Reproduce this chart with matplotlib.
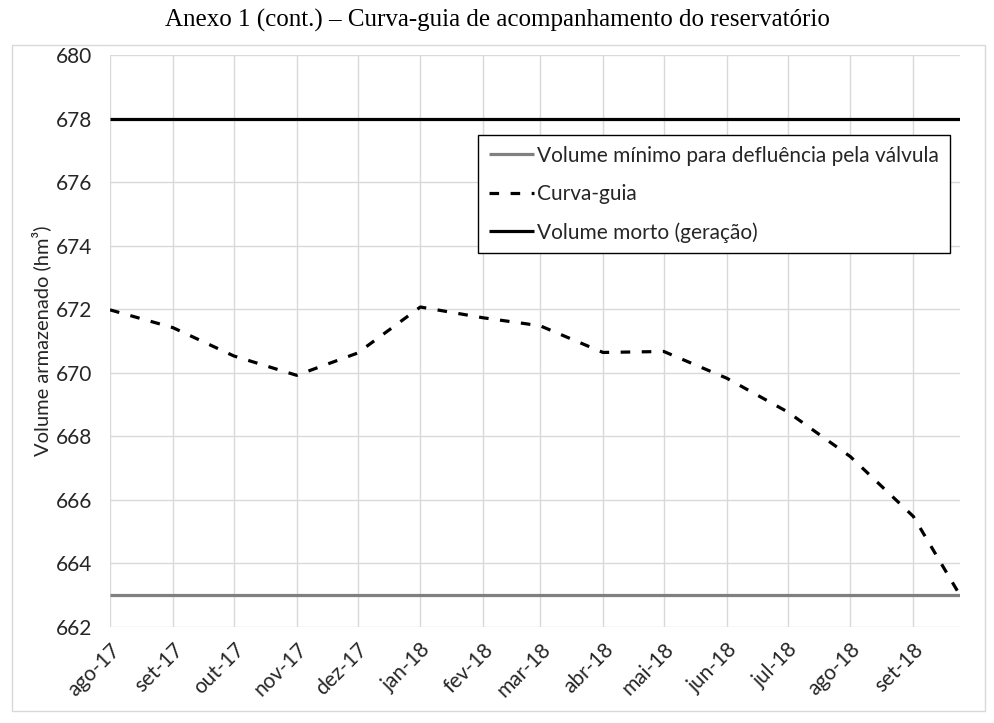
import numpy as np
import pandas as pd
import matplotlib
matplotlib.use("Agg")
import matplotlib.pyplot as plt
from matplotlib.patches import Rectangle

# curva-guia (hm3)
datas = pd.to_datetime(["2017-08-01", "2017-09-01", "2017-10-01", "2017-11-01",
                        "2017-12-01", "2018-01-01", "2018-02-01", "2018-03-01",
                        "2018-04-01", "2018-05-01", "2018-06-01", "2018-07-01",
                        "2018-08-01", "2018-09-01", "2018-09-24"])
curva_guia = [671.98, 671.42, 670.53, 669.92, 670.62, 672.07, 671.73, 671.48,
              670.64, 670.67, 669.83, 668.77, 667.36, 665.48, 663.0]
volume_minimo = 663.0
volume_morto = 678.0
meses = ["ago-17", "set-17", "out-17", "nov-17", "dez-17", "jan-18", "fev-18",
         "mar-18", "abr-18", "mai-18", "jun-18", "jul-18", "ago-18", "set-18"]

plt.rcParams['font.family'] = ['Lato', 'DejaVu Sans']

fig = plt.figure(figsize=(9.95, 7.23), dpi=100)
ax = fig.add_axes([0.1106, 0.1328, 0.8542, 0.7911])

# moldura externa
fig.patches.append(Rectangle((0.012, 0.016), 0.978, 0.922, transform=fig.transFigure,
                             fill=False, edgecolor='#d9d9d9', linewidth=1))

extremos = [datas[0], datas[-1]]
ax.plot(extremos, [volume_minimo, volume_minimo], color='#808080', lw=2.3,
        label='Volume mínimo para defluência pela válvula', solid_capstyle='butt')
ax.plot(datas, curva_guia, color='black', lw=2.3, dashes=(3, 3.6),
        label='Curva-guia')
ax.plot(extremos, [volume_morto, volume_morto], color='black', lw=2.3,
        label='Volume morto (geração)', solid_capstyle='butt')

ax.set_xlim(datas[0], datas[-1])
ax.set_ylim(662, 680)
ax.set_yticks(np.arange(662, 681, 2))
ax.set_xticks(datas[:-1])
ax.set_xticklabels(meses, rotation=45, ha='right', va='top', rotation_mode='anchor')
ax.tick_params(axis='both', length=0, labelsize=15, colors='#262626')
ax.tick_params(axis='x', pad=9)
ax.tick_params(axis='y', pad=13)
ax.grid(True, color='#d9d9d9', lw=1)
ax.set_axisbelow(True)
for s in ax.spines.values():
    s.set_visible(False)

ax.set_ylabel('Volume armazenado (hm³)', fontsize=14.5, color='#262626', labelpad=3)

leg = ax.legend(loc='upper right', bbox_to_anchor=(0.988, 0.86), fontsize=15,
                frameon=True, fancybox=False, edgecolor='black', framealpha=1,
                handlelength=2.2, handletextpad=0.15, labelspacing=0.88,
                borderpad=0.5, borderaxespad=0)
leg.get_frame().set_linewidth(1)
for t in leg.get_texts():
    t.set_color('#262626')

fig.text(0.5, 0.972, 'Anexo 1 (cont.) – Curva-guia de acompanhamento do reservatório',
         ha='center', va='center', fontsize=18, family=['Liberation Serif'])

fig.savefig('out.png', dpi=100)
